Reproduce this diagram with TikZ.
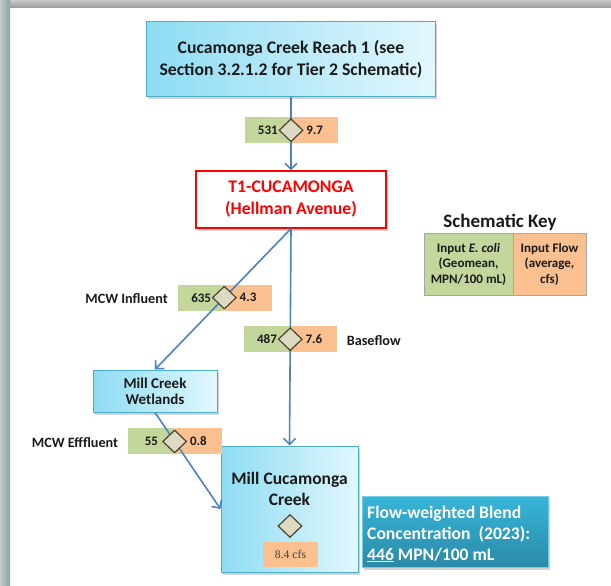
\documentclass[tikz,border=0pt]{standalone}
\usepackage{fontspec}
\setmainfont{Carlito}
\newfontfamily\serifx{Liberation Serif}
\usetikzlibrary{arrows.meta,shapes.geometric,shadows,calc}
\definecolor{boxedge}{HTML}{4BACC6}
\definecolor{bluedark}{HTML}{8DDCF3}
\definecolor{bluelight}{HTML}{E2F7FD}
\definecolor{keygreen}{HTML}{C3D69B}
\definecolor{keyorange}{HTML}{FAC090}
\definecolor{diafill}{HTML}{DDD9C3}
\definecolor{diaedge}{HTML}{4A4530}
\definecolor{flowline}{HTML}{4F81BD}
\definecolor{redx}{HTML}{FF0000}
\definecolor{blendtop}{HTML}{38B5D8}
\definecolor{blendbot}{HTML}{2A8AA8}
\definecolor{textdark}{HTML}{1A1A1A}
\tikzset{
  shadowed/.style={drop shadow={opacity=0.35,shadow xshift=1.5pt,shadow yshift=-2.5pt}},
  bluebox/.style={draw=boxedge,line width=1pt,left color=bluedark,right color=bluelight,
     align=center,inner sep=0pt,shadowed,text=textdark},
  redbox/.style={draw=redx,line width=1.2pt,fill=white,align=center,inner sep=0pt,text=redx,shadowed},
  gcell/.style={fill=keygreen,minimum height=26pt,minimum width=46pt,inner sep=0pt,
     font=\fontsize{13}{14}\selectfont\bfseries,text=textdark},
  ocell/.style={fill=keyorange,minimum height=26pt,minimum width=47pt,inner sep=0pt,
     font=\fontsize{13}{14}\selectfont\bfseries,text=textdark},
  dia/.style={diamond,draw=diaedge,fill=diafill,line width=1.2pt,minimum width=24pt,
     minimum height=23pt,inner sep=0pt},
  flow/.style={draw=flowline,line width=1.6pt,-{Straight Barb[length=6pt,width=12pt,line width=1.6pt]}},
  sidelabel/.style={font=\fontsize{14.2}{16}\selectfont\bfseries,text=textdark,inner sep=0pt},
}
\begin{document}
\begin{tikzpicture}[x=1pt,y=-1pt]
\useasboundingbox (0,0) rectangle (611,586);
% frame strips
\shade[top color=black!22,bottom color=black!40] (0,0) rectangle (611,8);
\shade[left color=cyan!20!black!25,right color=cyan!20!black!45] (0,0) rectangle (10,586);
% main boxes
\node[bluebox,minimum width=289pt,minimum height=75pt,
  font=\fontsize{17.7}{22}\selectfont\bfseries] (top) at (291,59.5)
  {Cucamonga Creek Reach 1 (see\\Section 3.2.1.2 for Tier 2 Schematic)};
\node[redbox,minimum width=190pt,minimum height=57pt,
  font=\fontsize{17.7}{22}\selectfont\bfseries] (t1) at (291,199.5)
  {T1-CUCAMONGA\\(Hellman Avenue)};
\node[bluebox,minimum width=124pt,minimum height=42pt,
  font=\fontsize{15}{16}\selectfont\bfseries] (wet) at (155,391)
  {Mill Creek\\Wetlands};
\node[bluebox,minimum width=137pt,minimum height=126pt] (mcc) at (289.5,509) {};
\node[font=\fontsize{17.5}{21}\selectfont\bfseries,align=center,text=textdark,inner sep=0pt]
  (mcctext) at (289.5,488.5) {Mill Cucamonga\\Creek};
\node[fill=keyorange,minimum width=55pt,minimum height=25pt,inner sep=0pt,
  font=\serifx\fontsize{11.7}{13}\selectfont,text=black!75] (cfs) at (290.5,554.5) {8.4 cfs};
\node[dia] (d4) at (290,526) {};
% blend box
\node[top color=blendtop,bottom color=blendbot,draw=blendtop!70!white,line width=0.6pt,
  minimum width=186pt,minimum height=71pt,inner sep=0pt,shadowed] (blend) at (455,531.5) {};
\node[anchor=west,align=left,text=white,inner sep=0pt,
  font=\fontsize{17.6}{21}\selectfont\bfseries] (blendtext) at (367,534)
  {Flow-weighted Blend\\Concentration\ \ (2023):\\\underline{446} MPN/100 mL};
% schematic key
\node[font=\fontsize{19}{20}\selectfont\bfseries,text=textdark] (keytitle) at (500,222) {Schematic Key};
\node[fill=keygreen,minimum width=89pt,minimum height=62pt,inner sep=0pt,align=center,
  font=\fontsize{13}{15.5}\selectfont\bfseries,text=textdark] (kg) at (468.5,264)
  {Input \textit{E. coli}\\(Geomean,\\MPN/100 mL)};
\node[fill=keyorange,minimum width=73pt,minimum height=62pt,inner sep=0pt,align=center,
  font=\fontsize{13}{15.5}\selectfont\bfseries,text=textdark] (ko) at (549.5,264)
  {Input Flow\\(average,\\cfs)};
\draw[black!35,line width=0.6pt] (kg.north west) rectangle (ko.south east);
\draw[black!35,line width=0.6pt] (kg.north east) -- (kg.south east);
% diamond positions on the flow lines
\path (top.south) -- (t1.north) coordinate[pos=0.45] (p1);
\path (t1.south) -- (wet.north) coordinate[pos=0.49] (p2);
\path (t1.south) -- (mcc.north) coordinate[pos=0.51] (p3);
\path (wet.south) -- (mcc.west) coordinate[pos=0.30] (p5);
% label cells
\node[gcell,anchor=east] (g1) at (p1) {531};
\node[ocell,anchor=west] (o1) at (p1) {9.7};
\node[gcell,anchor=east] (g2) at (p2) {635};
\node[ocell,anchor=west] (o2) at (p2) {4.3};
\node[gcell,anchor=east] (g3) at (p3) {487};
\node[ocell,anchor=west] (o3) at (p3) {7.6};
\node[gcell,anchor=east] (g5) at (p5) {55};
\node[ocell,anchor=west] (o5) at (p5) {0.8};
% flow lines
\draw[flow] (top.south) -- (t1.north);
\draw[flow] (t1.south) -- (wet.north);
\draw[flow] (t1.south) -- (mcc.north);
\draw[flow] (wet.south) -- (mcc.west);
% diamonds
\node[dia] (d1) at (p1) {};
\node[dia] (d2) at (p2) {};
\node[dia] (d3) at (p3) {};
\node[dia] (d5) at (p5) {};
% side labels
\node[sidelabel,anchor=east] (lin) at ($(g2.west)+(-10,1)$) {MCW Influent};
\node[sidelabel,anchor=west] (lbase) at ($(o3.east)+(9,1)$) {Baseflow};
\node[sidelabel,anchor=east] (leff) at ($(g5.west)+(-10,1)$) {MCW Efffluent};
\end{tikzpicture}
\end{document}
